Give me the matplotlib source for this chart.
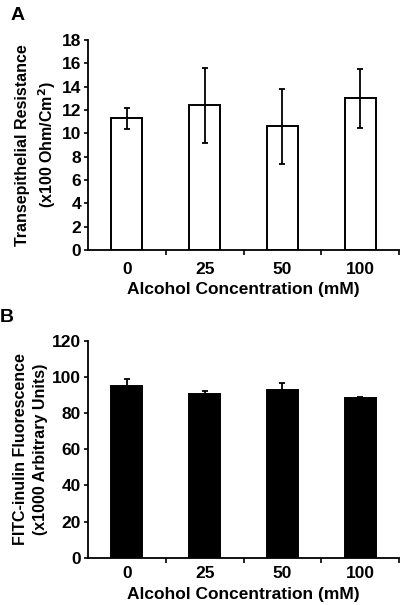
import numpy as np
import matplotlib
matplotlib.use("Agg")
import matplotlib.pyplot as plt

plt.rcParams['font.family'] = ['Liberation Sans', 'DejaVu Sans']
plt.rcParams['font.weight'] = 'bold'

# data
conc = ['0', '25', '50', '100']
teer = [11.3, 12.4, 10.6, 13.0]        # x100 Ohm/cm2
teer_err = [0.9, 3.2, 3.2, 2.55]
fitc = [95.0, 90.5, 93.0, 88.3]        # x1000 arbitrary units
fitc_err = [4.0, 2.0, 4.0, 0.5]

fig = plt.figure(figsize=(4.0, 6.05), dpi=100)
W, H = 400, 605

def px_axes(left, top, right, bottom):
    return fig.add_axes([left / W, 1 - bottom / H, (right - left) / W, (bottom - top) / H])

axA = px_axes(88, 40, 399, 250)
axB = px_axes(88, 341, 399, 557.7)

x = np.arange(len(conc))

def style(ax, xpad, lpad):
    for s in ['top', 'right']:
        ax.spines[s].set_visible(False)
    for s in ['left', 'bottom']:
        ax.spines[s].set_linewidth(1.3)
    ax.set_xlim(-0.5, 3.5)
    ax.set_xticks(x)
    ax.set_xticklabels(conc)
    ax.set_xticks(np.arange(0.5, 4, 1), minor=True)
    ax.tick_params(axis='x', which='major', length=0, pad=xpad, labelsize=12.5)
    ax.tick_params(axis='x', which='minor', length=3.5, width=1.2, direction='out')
    ax.tick_params(axis='y', length=3, width=1.2, pad=2, labelsize=12.5)
    ax.set_xlabel('Alcohol Concentration (mM)', fontsize=12.5, fontweight='bold', labelpad=lpad)

# Panel A
axA.bar(x, teer, width=0.4, color='white', edgecolor='black', linewidth=1.4, zorder=2)
axA.errorbar(x, teer, yerr=teer_err, fmt='none', ecolor='black', elinewidth=1.3,
             capsize=2.5, capthick=1.3, zorder=3)
axA.set_ylim(0, 18)
axA.set_yticks(np.arange(0, 19, 2))
style(axA, 8.5, 4)
axA.set_ylabel('Transepithelial Resistance\n(x100 Ohm/Cm$^\\mathbf{2}$)', fontsize=11.5,
               fontweight='bold', linespacing=1.4)
axA.yaxis.label.set_va('center')
axA.yaxis.set_label_coords(-0.165, 0.5)

# Panel B
axB.bar(x, fitc, width=0.4, color='black', edgecolor='black', linewidth=1.4, zorder=2)
axB.errorbar(x, fitc, yerr=[np.zeros(4), fitc_err], fmt='none', ecolor='black',
             elinewidth=1.3, capsize=2.5, capthick=1.3, zorder=1)
axB.set_ylim(0, 120)
axB.set_yticks(np.arange(0, 121, 20))
style(axB, 6, 4)
axB.set_ylabel('FITC-inulin Fluorescence\n(x1000 Arbitrary Units)', fontsize=11.5,
               fontweight='bold', linespacing=1.4)
axB.yaxis.label.set_va('center')
axB.yaxis.set_label_coords(-0.185, 0.5)

fig.text(11 / W, 1 - 15 / H, 'A', fontsize=14, fontweight='bold', va='center', ha='left')
fig.text(0 / W, 1 - 318 / H, 'B', fontsize=14, fontweight='bold', va='center', ha='left')

fig.savefig('out.png', dpi=100)
